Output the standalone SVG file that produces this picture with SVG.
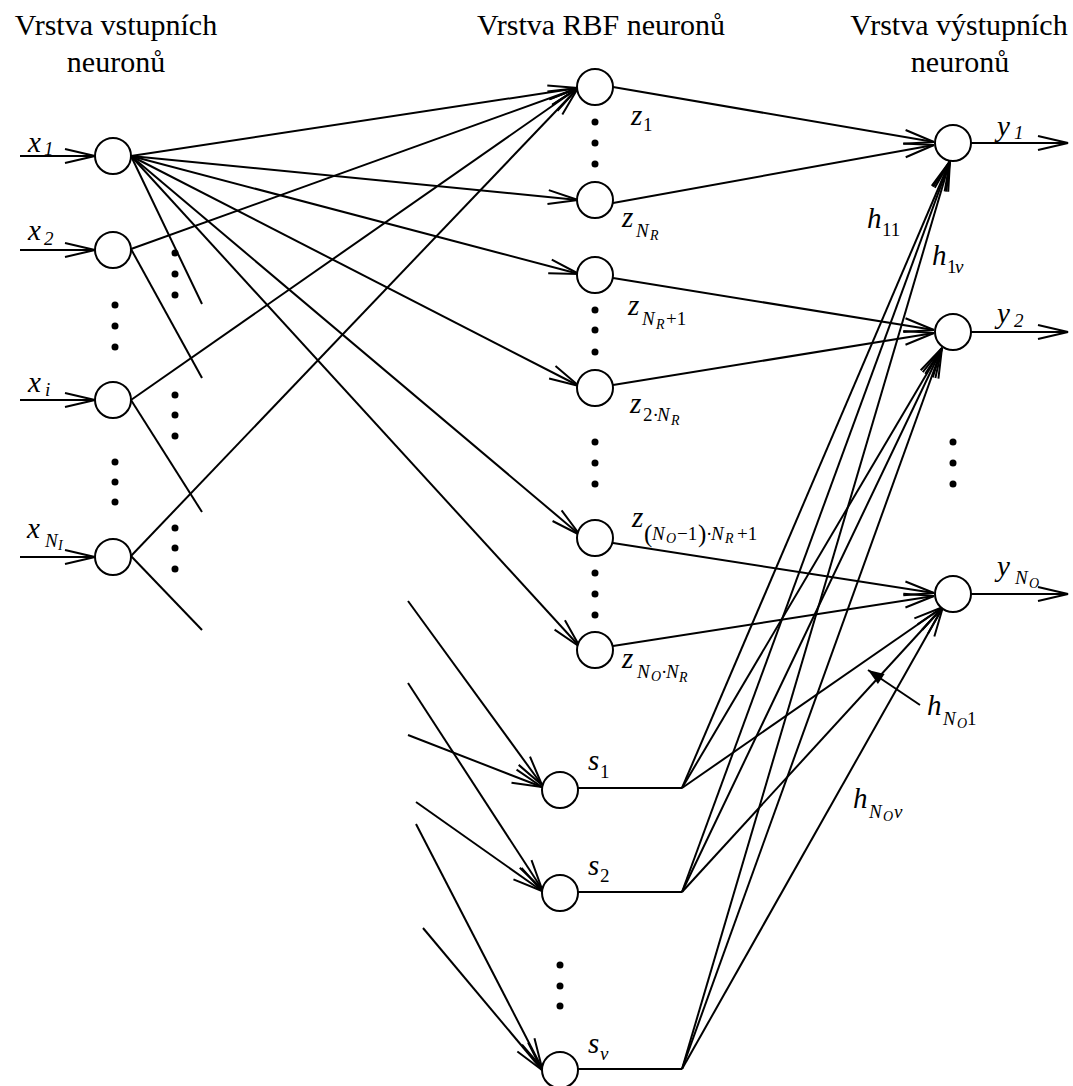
<svg xmlns="http://www.w3.org/2000/svg" width="1073" height="1086" viewBox="0 0 1073 1086">
<style>
.ln{stroke:#000;stroke-width:2;fill:none}
.ar{marker-end:url(#a)}
.nd{fill:#fff;stroke:#000;stroke-width:2}
.dt{fill:#000}
.hd{font-family:"Liberation Serif","Times New Roman",serif;font-size:30px;text-anchor:middle}
.m{font-family:"Liberation Serif","Times New Roman",serif;font-style:italic;font-size:29px}
.s{font-family:"Liberation Serif","Times New Roman",serif;font-size:19px}
.si{font-family:"Liberation Serif","Times New Roman",serif;font-style:italic;font-size:19px}
.ss{font-family:"Liberation Serif","Times New Roman",serif;font-style:italic;font-size:14px}
.pr{font-family:"Liberation Serif","Times New Roman",serif;font-size:25px}
</style>
<defs>
<marker id="a" viewBox="-32 -10 34 20" refX="0" refY="0" markerWidth="34" markerHeight="20" markerUnits="userSpaceOnUse" orient="auto" overflow="visible">
<path d="M-30,-7 L0,0 L-30,7" fill="none" stroke="#000" stroke-width="2"/>
</marker>
<marker id="f" viewBox="-16 -7 17 14" refX="0" refY="0" markerWidth="17" markerHeight="14" markerUnits="userSpaceOnUse" orient="auto" overflow="visible">
<path d="M-16,-6 L0,0 L-16,6 Z" fill="#000"/>
</marker>
</defs>
<rect width="1073" height="1086" fill="#fff"/>

<g id="headers">
<text class="hd" x="116" y="35">Vrstva vstupních</text>
<text class="hd" x="116" y="72">neuronů</text>
<text class="hd" x="601" y="35">Vrstva RBF neuronů</text>
<text class="hd" x="959" y="35">Vrstva výstupních</text>
<text class="hd" x="960" y="72">neuronů</text>
</g>

<g id="connectors">
<line class="ln ar" x1="20" y1="156" x2="95" y2="156"/>
<line class="ln ar" x1="20" y1="250" x2="95" y2="250"/>
<line class="ln ar" x1="20" y1="400" x2="95" y2="400"/>
<line class="ln ar" x1="20" y1="557" x2="95" y2="557"/>
<line class="ln ar" x1="131" y1="156" x2="578" y2="88"/>
<line class="ln ar" x1="131" y1="156" x2="578" y2="200"/>
<line class="ln ar" x1="131" y1="156" x2="579" y2="274"/>
<line class="ln ar" x1="131" y1="156" x2="579" y2="386"/>
<line class="ln ar" x1="131" y1="156" x2="580" y2="535"/>
<line class="ln ar" x1="131" y1="156" x2="580" y2="647"/>
<line class="ln" x1="131" y1="156" x2="202" y2="304"/>
<line class="ln ar" x1="131" y1="249" x2="578" y2="88"/>
<line class="ln" x1="131" y1="249" x2="202" y2="378"/>
<line class="ln ar" x1="131" y1="400" x2="578" y2="88"/>
<line class="ln" x1="131" y1="400" x2="202" y2="512"/>
<line class="ln ar" x1="131" y1="556" x2="578" y2="88"/>
<line class="ln" x1="131" y1="556" x2="202" y2="630"/>
<line class="ln ar" x1="613" y1="87" x2="934" y2="142"/>
<line class="ln ar" x1="613" y1="203" x2="934" y2="145"/>
<line class="ln ar" x1="613" y1="278" x2="934" y2="330"/>
<line class="ln ar" x1="613" y1="385" x2="934" y2="333"/>
<line class="ln ar" x1="613" y1="543" x2="934" y2="593"/>
<line class="ln ar" x1="613" y1="646" x2="934" y2="596"/>
<line class="ln ar" x1="971" y1="143" x2="1068" y2="143"/>
<line class="ln ar" x1="971" y1="332" x2="1068" y2="332"/>
<line class="ln ar" x1="971" y1="594" x2="1068" y2="594"/>
<line class="ln ar" x1="408" y1="601" x2="542" y2="785"/>
<line class="ln ar" x1="408" y1="735" x2="542" y2="787"/>
<line class="ln ar" x1="408" y1="683" x2="542" y2="889"/>
<line class="ln ar" x1="416" y1="802" x2="542" y2="891"/>
<line class="ln ar" x1="416" y1="824" x2="542" y2="1068"/>
<line class="ln ar" x1="423" y1="928" x2="542" y2="1070"/>
<line class="ln" x1="578" y1="788" x2="682" y2="788"/>
<line class="ln" x1="578" y1="892" x2="682" y2="892"/>
<line class="ln" x1="578" y1="1069" x2="682" y2="1069"/>
<line class="ln ar" x1="682" y1="788" x2="950" y2="161"/>
<line class="ln ar" x1="682" y1="788" x2="942" y2="348"/>
<line class="ln ar" x1="682" y1="788" x2="943" y2="607"/>
<line class="ln ar" x1="682" y1="892" x2="950" y2="161"/>
<line class="ln ar" x1="682" y1="892" x2="942" y2="348"/>
<line class="ln ar" x1="682" y1="892" x2="943" y2="607"/>
<line class="ln ar" x1="682" y1="1069" x2="950" y2="161"/>
<line class="ln ar" x1="682" y1="1069" x2="942" y2="348"/>
<line class="ln ar" x1="682" y1="1069" x2="943" y2="607"/>
<line class="ln" x1="920" y1="705" x2="868" y2="670" marker-end="url(#f)"/>
</g>

<g id="input-nodes">
<g id="x1"><circle class="nd" cx="113" cy="156" r="18"/><text class="m" x="28" y="152">x</text><text class="si" x="44" y="155">1</text></g>
<g id="x2"><circle class="nd" cx="113" cy="250" r="18"/><text class="m" x="28" y="240">x</text><text class="si" x="44" y="245">2</text></g>
<g id="xi"><circle class="nd" cx="113" cy="400" r="18"/><text class="m" x="28" y="392">x</text><text class="si" x="45" y="396">i</text></g>
<g id="xNI"><circle class="nd" cx="113" cy="557" r="18"/><text class="m" x="27" y="538">x</text><text class="si" x="45" y="547">N</text><text class="ss" x="58" y="550">I</text></g>
</g>

<g id="rbf-nodes">
<g id="z1"><circle class="nd" cx="595" cy="87" r="18"/><text class="m" x="631" y="125">z</text><text class="s" x="643" y="131">1</text></g>
<g id="zNR"><circle class="nd" cx="595" cy="200" r="18"/><text class="m" x="622" y="227">z</text><text class="si" x="636" y="237">N</text><text class="ss" x="650" y="240">R</text></g>
<g id="zNR1"><circle class="nd" cx="595" cy="275" r="18"/><text class="m" x="628" y="315">z</text><text class="si" x="642" y="325">N</text><text class="ss" x="656" y="329">R</text><text class="s" x="666" y="325">+1</text></g>
<g id="z2NR"><circle class="nd" cx="595" cy="388" r="18"/><text class="m" x="630" y="413">z</text><text class="s" x="643" y="421">2·</text><text class="si" x="657" y="421">N</text><text class="ss" x="671" y="425">R</text></g>
<g id="zNO1"><circle class="nd" cx="595" cy="538" r="18"/><text class="m" x="632" y="527">z</text><text class="pr" x="644" y="542">(</text><text class="si" x="652" y="540">N</text><text class="ss" x="666" y="543">O</text><text class="s" x="677" y="540">−1</text><text class="pr" x="698" y="542">)</text><text class="s" x="706" y="540">·</text><text class="si" x="711" y="540">N</text><text class="ss" x="725" y="543">R</text><text class="s" x="737" y="540">+1</text></g>
<g id="zNONR"><circle class="nd" cx="595" cy="650" r="18"/><text class="m" x="622" y="668">z</text><text class="si" x="637" y="678">N</text><text class="ss" x="651" y="681">O</text><text class="s" x="661" y="678">·</text><text class="si" x="666" y="678">N</text><text class="ss" x="679" y="682">R</text></g>
</g>

<g id="s-nodes">
<g id="s1"><circle class="nd" cx="560" cy="790" r="18"/><text class="m" x="588" y="770">s</text><text class="s" x="600" y="778">1</text></g>
<g id="s2"><circle class="nd" cx="560" cy="893" r="18"/><text class="m" x="588" y="875">s</text><text class="s" x="600" y="882">2</text></g>
<g id="sv"><circle class="nd" cx="560" cy="1070" r="18"/><text class="m" x="588" y="1053">s</text><text class="si" x="600" y="1060">v</text></g>
</g>

<g id="output-nodes">
<g id="y1"><circle class="nd" cx="953" cy="143" r="18"/><text class="m" x="997" y="136">y</text><text class="si" x="1014" y="139">1</text></g>
<g id="y2"><circle class="nd" cx="953" cy="332" r="18"/><text class="m" x="997" y="323">y</text><text class="si" x="1014" y="327">2</text></g>
<g id="yNO"><circle class="nd" cx="953" cy="594" r="18"/><text class="m" x="997" y="576">y</text><text class="si" x="1015" y="584">N</text><text class="ss" x="1029" y="588">O</text></g>
</g>

<g id="weight-labels">
<text class="m" x="867" y="228">h</text><text class="s" x="882" y="236">11</text>
<text class="m" x="932" y="265">h</text><text class="s" x="947" y="273">1</text><text class="si" x="955" y="273">v</text>
<text class="m" x="927" y="715">h</text><text class="si" x="943" y="725">N</text><text class="ss" x="957" y="728">O</text><text class="s" x="967" y="725">1</text>
<text class="m" x="853" y="808">h</text><text class="si" x="869" y="818">N</text><text class="ss" x="883" y="821">O</text><text class="si" x="894" y="818">v</text>
</g>

<g id="dots">
<circle class="dt" cx="115" cy="305" r="3.5"/><circle class="dt" cx="115" cy="326" r="3.5"/><circle class="dt" cx="115" cy="347" r="3.5"/>
<circle class="dt" cx="115" cy="462" r="3.5"/><circle class="dt" cx="115" cy="482" r="3.5"/><circle class="dt" cx="115" cy="502" r="3.5"/>
<circle class="dt" cx="175" cy="253" r="3.5"/><circle class="dt" cx="175" cy="274" r="3.5"/><circle class="dt" cx="175" cy="295" r="3.5"/>
<circle class="dt" cx="175" cy="395" r="3.5"/><circle class="dt" cx="175" cy="415" r="3.5"/><circle class="dt" cx="175" cy="436" r="3.5"/>
<circle class="dt" cx="175" cy="528" r="3.5"/><circle class="dt" cx="175" cy="548" r="3.5"/><circle class="dt" cx="175" cy="569" r="3.5"/>
<circle class="dt" cx="595" cy="122" r="3.5"/><circle class="dt" cx="595" cy="143" r="3.5"/><circle class="dt" cx="595" cy="164" r="3.5"/>
<circle class="dt" cx="595" cy="310" r="3.5"/><circle class="dt" cx="595" cy="330" r="3.5"/><circle class="dt" cx="595" cy="352" r="3.5"/>
<circle class="dt" cx="595" cy="442" r="3.5"/><circle class="dt" cx="595" cy="463" r="3.5"/><circle class="dt" cx="595" cy="484" r="3.5"/>
<circle class="dt" cx="595" cy="573" r="3.5"/><circle class="dt" cx="595" cy="594" r="3.5"/><circle class="dt" cx="595" cy="615" r="3.5"/>
<circle class="dt" cx="953" cy="442" r="3.5"/><circle class="dt" cx="953" cy="463" r="3.5"/><circle class="dt" cx="953" cy="484" r="3.5"/>
<circle class="dt" cx="560" cy="965" r="3.5"/><circle class="dt" cx="560" cy="986" r="3.5"/><circle class="dt" cx="560" cy="1006" r="3.5"/>
</g>
</svg>
